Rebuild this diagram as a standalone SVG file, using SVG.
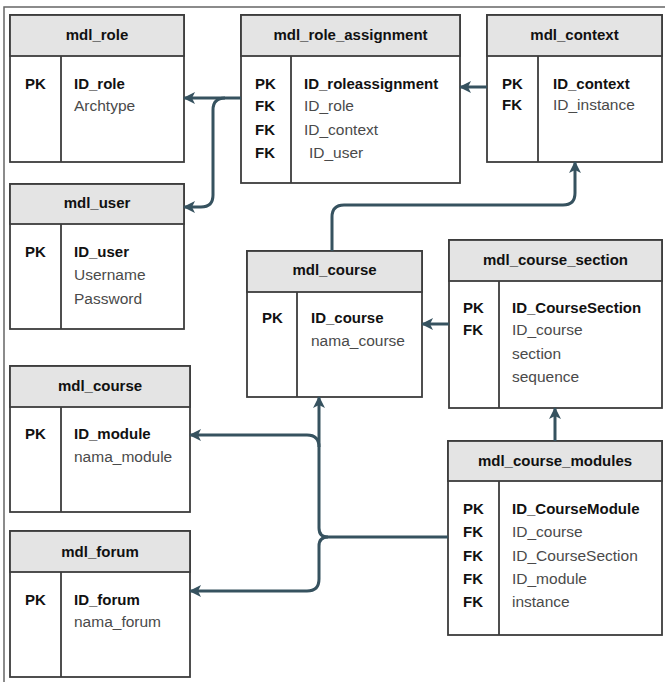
<svg xmlns="http://www.w3.org/2000/svg" width="665" height="682" viewBox="0 0 665 682">
<style>
.box{fill:#fff;stroke:#3c3c3c;stroke-width:1.8}
.hdr{fill:#e4e4e4;stroke:#3c3c3c;stroke-width:1.8}
.div{stroke:#3c3c3c;stroke-width:1.8}
.title{font-family:"Liberation Sans",Arial,sans-serif;font-size:15px;font-weight:bold;fill:#111;text-anchor:middle}
.key{font-family:"Liberation Sans",Arial,sans-serif;font-size:15px;font-weight:bold;fill:#111}
.pk{font-family:"Liberation Sans",Arial,sans-serif;font-size:15px;font-weight:bold;fill:#111}
.fld{font-family:"Liberation Sans",Arial,sans-serif;font-size:15.5px;fill:#4a4a4a}
.con{fill:none;stroke:#36525f;stroke-width:3}
</style>
<defs>
<marker id="ah" viewBox="0 0 12 12" refX="11" refY="6" markerWidth="12" markerHeight="12" markerUnits="userSpaceOnUse" orient="auto">
<path d="M0,0 L12,6 L0,12 L3,6 Z" fill="#36525f"/>
</marker>
</defs>
<rect width="665" height="682" fill="#fff"/>
<path d="M4,682 L4,7 L665,7" fill="none" stroke="#666" stroke-width="1.5"/>

<g id="mdl_role">
<rect class="box" x="10" y="15" width="174" height="147"/>
<rect class="hdr" x="10" y="15" width="174" height="41"/>
<line class="div" x1="61" y1="56" x2="61" y2="162"/>
<text class="title" x="97" y="40">mdl_role</text>
<text class="pk" x="25" y="89">PK</text>
<text class="key" x="74" y="89">ID_role</text>
<text class="fld" x="74" y="111">Archtype</text>
</g>

<g id="mdl_role_assignment">
<rect class="box" x="241" y="15" width="219" height="168"/>
<rect class="hdr" x="241" y="15" width="219" height="41"/>
<line class="div" x1="291" y1="56" x2="291" y2="183"/>
<text class="title" x="350.5" y="40">mdl_role_assignment</text>
<text class="pk" x="255" y="89">PK</text>
<text class="pk" x="255" y="111">FK</text>
<text class="pk" x="255" y="135">FK</text>
<text class="pk" x="255" y="158">FK</text>
<text class="key" x="304" y="89" font-size="14.5">ID_roleassignment</text>
<text class="fld" x="304" y="111">ID_role</text>
<text class="fld" x="304" y="135">ID_context</text>
<text class="fld" x="309" y="158">ID_user</text>
</g>

<g id="mdl_context">
<rect class="box" x="487" y="15" width="175" height="147"/>
<rect class="hdr" x="487" y="15" width="175" height="41"/>
<line class="div" x1="538" y1="56" x2="538" y2="162"/>
<text class="title" x="574.5" y="40">mdl_context</text>
<text class="pk" x="502" y="89">PK</text>
<text class="pk" x="502" y="110">FK</text>
<text class="key" x="553" y="89">ID_context</text>
<text class="fld" x="553" y="110">ID_instance</text>
</g>

<g id="mdl_user">
<rect class="box" x="10" y="184" width="174" height="145"/>
<rect class="hdr" x="10" y="184" width="174" height="40"/>
<line class="div" x1="61" y1="224" x2="61" y2="329"/>
<text class="title" x="97" y="208">mdl_user</text>
<text class="pk" x="25" y="257">PK</text>
<text class="key" x="74" y="257">ID_user</text>
<text class="fld" x="74" y="280">Username</text>
<text class="fld" x="74" y="304">Password</text>
</g>

<g id="mdl_course_main">
<rect class="box" x="247" y="251" width="175" height="146"/>
<rect class="hdr" x="247" y="251" width="175" height="41"/>
<line class="div" x1="297" y1="292" x2="297" y2="397"/>
<text class="title" x="334.5" y="275">mdl_course</text>
<text class="pk" x="262" y="323">PK</text>
<text class="key" x="311" y="323">ID_course</text>
<text class="fld" x="311" y="346">nama_course</text>
</g>

<g id="mdl_course_section">
<rect class="box" x="449" y="240" width="213" height="168"/>
<rect class="hdr" x="449" y="240" width="213" height="41"/>
<line class="div" x1="499" y1="281" x2="499" y2="408"/>
<text class="title" x="555.5" y="265">mdl_course_section</text>
<text class="pk" x="463" y="313">PK</text>
<text class="pk" x="463" y="335">FK</text>
<text class="key" x="512" y="313" font-size="14.5">ID_CourseSection</text>
<text class="fld" x="512" y="335">ID_course</text>
<text class="fld" x="512" y="359">section</text>
<text class="fld" x="512" y="382">sequence</text>
</g>

<g id="mdl_course_module">
<rect class="box" x="10" y="366" width="180" height="146"/>
<rect class="hdr" x="10" y="366" width="180" height="41"/>
<line class="div" x1="61" y1="407" x2="61" y2="512"/>
<text class="title" x="100" y="391">mdl_course</text>
<text class="pk" x="25" y="439">PK</text>
<text class="key" x="74" y="439">ID_module</text>
<text class="fld" x="74" y="462">nama_module</text>
</g>

<g id="mdl_forum">
<rect class="box" x="10" y="531" width="180" height="146"/>
<rect class="hdr" x="10" y="531" width="180" height="41"/>
<line class="div" x1="61" y1="572" x2="61" y2="677"/>
<text class="title" x="100" y="557">mdl_forum</text>
<text class="pk" x="25" y="605">PK</text>
<text class="key" x="74" y="605">ID_forum</text>
<text class="fld" x="74" y="627">nama_forum</text>
</g>

<g id="mdl_course_modules">
<rect class="box" x="448" y="441" width="214" height="194"/>
<rect class="hdr" x="448" y="441" width="214" height="40"/>
<line class="div" x1="499" y1="481" x2="499" y2="635"/>
<text class="title" x="555" y="466">mdl_course_modules</text>
<text class="pk" x="463" y="514">PK</text>
<text class="pk" x="463" y="537">FK</text>
<text class="pk" x="463" y="561">FK</text>
<text class="pk" x="463" y="584">FK</text>
<text class="pk" x="463" y="607">FK</text>
<text class="key" x="512" y="514" font-size="14.5">ID_CourseModule</text>
<text class="fld" x="512" y="537">ID_course</text>
<text class="fld" x="512" y="561">ID_CourseSection</text>
<text class="fld" x="512" y="584">ID_module</text>
<text class="fld" x="512" y="607">instance</text>
</g>

<g id="connectors">
<path class="con" d="M241,98 L184,98" marker-end="url(#ah)"/>
<path class="con" d="M225,98 Q213,98 213,110 L213,195 Q213,207 201,207 L184,207" marker-end="url(#ah)"/>
<path class="con" d="M487,87 L460,87" marker-end="url(#ah)"/>
<path class="con" d="M332,251 L332,217 Q332,205 344,205 L563,205 Q575,205 575,193 L575,162" marker-end="url(#ah)"/>
<path class="con" d="M449,324 L422,324" marker-end="url(#ah)"/>
<path class="con" d="M555,441 L555,408" marker-end="url(#ah)"/>
<path class="con" d="M448,537 L328,537 Q319,537 319,528 L319,397" marker-end="url(#ah)"/>
<path class="con" d="M319,447 Q319,435 307,435 L190,435" marker-end="url(#ah)"/>
<path class="con" d="M328,537 Q319,537 319,546 L319,579 Q319,591 307,591 L190,591" marker-end="url(#ah)"/>
</g>
</svg>
